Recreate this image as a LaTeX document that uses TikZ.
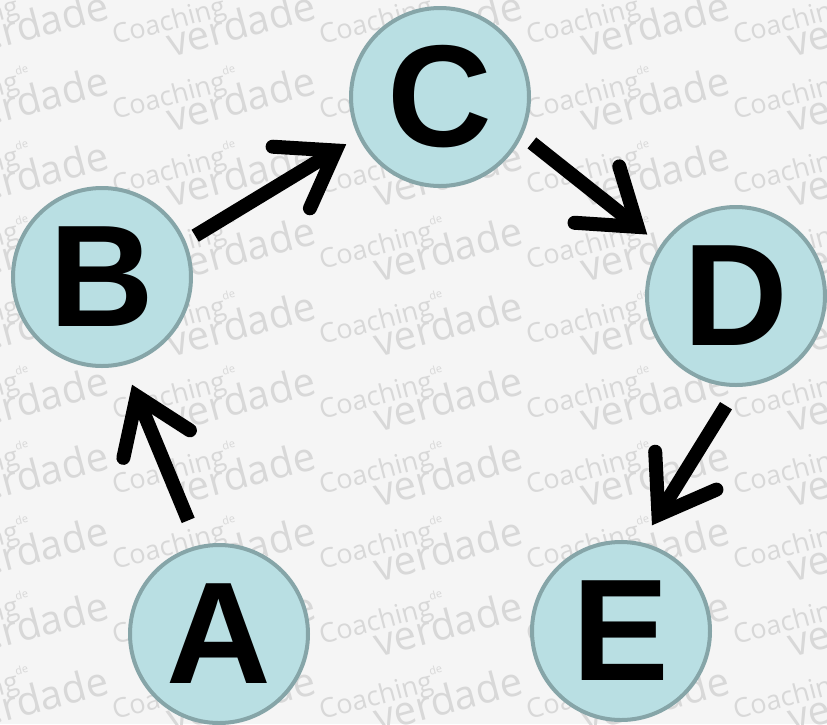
\documentclass[tikz,border=0pt]{standalone}
\usepackage{fontspec}
\setmainfont{Liberation Sans}
\newfontfamily\markfont{Open Sans}
\usetikzlibrary{arrows.meta, positioning}
\definecolor{stagefill}{RGB}{185,223,227}
\definecolor{stageline}{RGB}{134,165,168}
\definecolor{paperbg}{RGB}{245,245,245}
\definecolor{wmgray}{RGB}{216,216,216}

\begin{document}
\begin{tikzpicture}[x=1pt, y=-1pt,
    stage/.style={circle, draw=stageline, line width=4pt, fill=stagefill,
                  minimum size=178pt, inner sep=0pt, font=\fontsize{145}{145}\selectfont\bfseries},
    flow/.style={line width=14pt, -{Straight Barb[length=52pt, width=72pt, line cap=round, line join=miter]}},
    wm/.style={text=wmgray, rotate=15, anchor=base west, inner sep=0pt}]

    % Background with watermark
    \fill[paperbg] (0,0) rectangle (827,724);
    \useasboundingbox (0,0) rectangle (827,724);
    \begin{scope}
        \clip (0,0) rectangle (827,724);
        \foreach \i in {-1,...,4} {
            \foreach \j in {-1,...,9} {
                \node[wm, font=\markfont\fontsize{27}{27}\selectfont] (wc\i\j) at (115+207*\i, 45+75*\j)
                    {Coaching\raisebox{0.55em}{\fontsize{11}{11}\selectfont de}};
                \node[wm, font=\markfont\fontsize{40}{40}\selectfont] (wv\i\j) at (171+207*\i, 58+75*\j) {verdade};
            }
        }
    \end{scope}

    % Stages
    \node[stage] (a) at (219,634) {A};
    \node[stage] (b) at (102,277) {B};
    \node[stage] (c) at (440,97) {C};
    \node[stage] (d) at (736,296) {D};
    \node[stage] (e) at (621,631) {E};

    % Flow
    \draw[flow, shorten <=27pt, shorten >=21pt] (a.103) -- (b.-76);
    \draw[flow, shorten <=11pt, shorten >=14pt] (b.23) -- (c.206);
    \draw[flow, shorten <=12pt, shorten >=17pt] (c.-25) -- (d.146);
    \draw[flow, shorten <=22pt, shorten >=20pt] (d.-89) -- (e.77);
\end{tikzpicture}
\end{document}
